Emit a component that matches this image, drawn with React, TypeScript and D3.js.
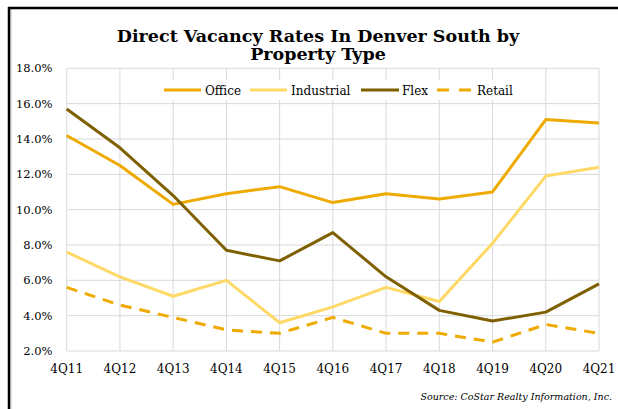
import React from "react";
import * as d3 from "d3";

const categories = ["4Q11", "4Q12", "4Q13", "4Q14", "4Q15", "4Q16", "4Q17", "4Q18", "4Q19", "4Q20", "4Q21"];
const office = [14.2, 12.5, 10.3, 10.9, 11.3, 10.4, 10.9, 10.6, 11.0, 15.1, 14.9];
const industrial = [7.6, 6.2, 5.1, 6.0, 3.6, 4.5, 5.6, 4.8, 8.1, 11.9, 12.4];
const flex = [15.7, 13.5, 10.8, 7.7, 7.1, 8.7, 6.2, 4.3, 3.7, 4.2, 5.8];
const retail = [5.6, 4.6, 3.9, 3.2, 3.0, 3.9, 3.0, 3.0, 2.5, 3.5, 3.0];
const yTicks = [2, 4, 6, 8, 10, 12, 14, 16, 18];
const titleLines = ["Direct Vacancy Rates In Denver South by", "Property Type"];
const sourceText = "Source: CoStar Realty Information, Inc.";

const series = [
  { name: "Office", values: office, color: "#EFAA00", dash: "" },
  { name: "Industrial", values: industrial, color: "#FFD966", dash: "" },
  { name: "Flex", values: flex, color: "#7F6000", dash: "" },
  { name: "Retail", values: retail, color: "#EFAA00", dash: "11,8" },
];

const W = 618;
const H = 409;
const left = 66.7;
const right = 599;
const top = 68.3;
const bottom = 351;
const font = "'DejaVu Serif', serif";

export default function App() {
  const x = d3.scalePoint<string>().domain(categories).range([left, right]);
  const y = d3.scaleLinear().domain([2, 18]).range([bottom, top]);
  const line = d3
    .line<number>()
    .x((_, i) => x(categories[i]) as number)
    .y((d) => y(d));

  const legendItems = [
    { name: "Office", x1: 164, x2: 201, tx: 205 },
    { name: "Industrial", x1: 250, x2: 287, tx: 291 },
    { name: "Flex", x1: 361, x2: 399, tx: 402 },
    { name: "Retail", x1: 437, x2: 473, tx: 477 },
  ];

  return (
    <svg width={W} height={H} style={{ position: "absolute", left: 0, top: 0, background: "#fff" }}>
      <rect x={0} y={0} width={W} height={H} fill="#fff" />
      {/* frame */}
      <line x1={11} y1={9} x2={11} y2={H} stroke="#c8c8c8" strokeWidth={1} />
      <line x1={9} y1={7} x2={9} y2={H} stroke="#000" strokeWidth={2.5} />
      <line x1={8} y1={8} x2={W} y2={8} stroke="#000" strokeWidth={2.5} />

      {/* title */}
      {titleLines.map((t, i) => (
        <text
          key={i}
          x={318}
          y={41.5 + i * 18.5}
          textAnchor="middle"
          fontFamily={font}
          fontWeight="bold"
          fontSize={17.5}
          fill="#000"
        >
          {t}
        </text>
      ))}

      {/* grid */}
      {yTicks.map((t) => (
        <line key={"h" + t} x1={left} x2={right} y1={y(t)} y2={y(t)} stroke="#d9d9d9" strokeWidth={1} />
      ))}
      {categories.map((c) => (
        <line key={"v" + c} x1={x(c)} x2={x(c)} y1={top} y2={bottom} stroke="#d9d9d9" strokeWidth={1} />
      ))}

      {/* y labels */}
      {yTicks.map((t) => (
        <text
          key={"yl" + t}
          x={52.5}
          y={y(t)}
          dy="0.35em"
          textAnchor="end"
          fontFamily={font}
          fontSize={11.5}
          fill="#000"
        >
          {t.toFixed(1) + "%"}
        </text>
      ))}

      {/* x labels */}
      {categories.map((c) => (
        <text
          key={"xl" + c}
          x={x(c)}
          y={373}
          textAnchor="middle"
          fontFamily={font}
          fontSize={12}
          fill="#000"
        >
          {c}
        </text>
      ))}

      {/* legend */}
      <rect x={158} y={80} width={362} height={20} fill="#fff" />
      {legendItems.map((li, i) => {
        const s = series[i];
        return (
          <g key={li.name}>
            <line
              x1={li.x1}
              x2={li.x2}
              y1={90}
              y2={90}
              stroke={s.color}
              strokeWidth={3}
              strokeDasharray={s.dash ? "12,10" : undefined}
            />
            <text x={li.tx} y={94.5} fontFamily={font} fontSize={12} fill="#000">
              {li.name}
            </text>
          </g>
        );
      })}

      {/* series */}
      {series.map((s) => (
        <path
          key={s.name}
          d={line(s.values) || ""}
          fill="none"
          stroke={s.color}
          strokeWidth={3}
          strokeDasharray={s.dash || undefined}
          strokeLinejoin="round"
        />
      ))}

      {/* source */}
      <text
        x={612}
        y={400}
        textAnchor="end"
        fontFamily={font}
        fontStyle="italic"
        fontSize={9.5}
        fill="#000"
      >
        {sourceText}
      </text>
    </svg>
  );
}
